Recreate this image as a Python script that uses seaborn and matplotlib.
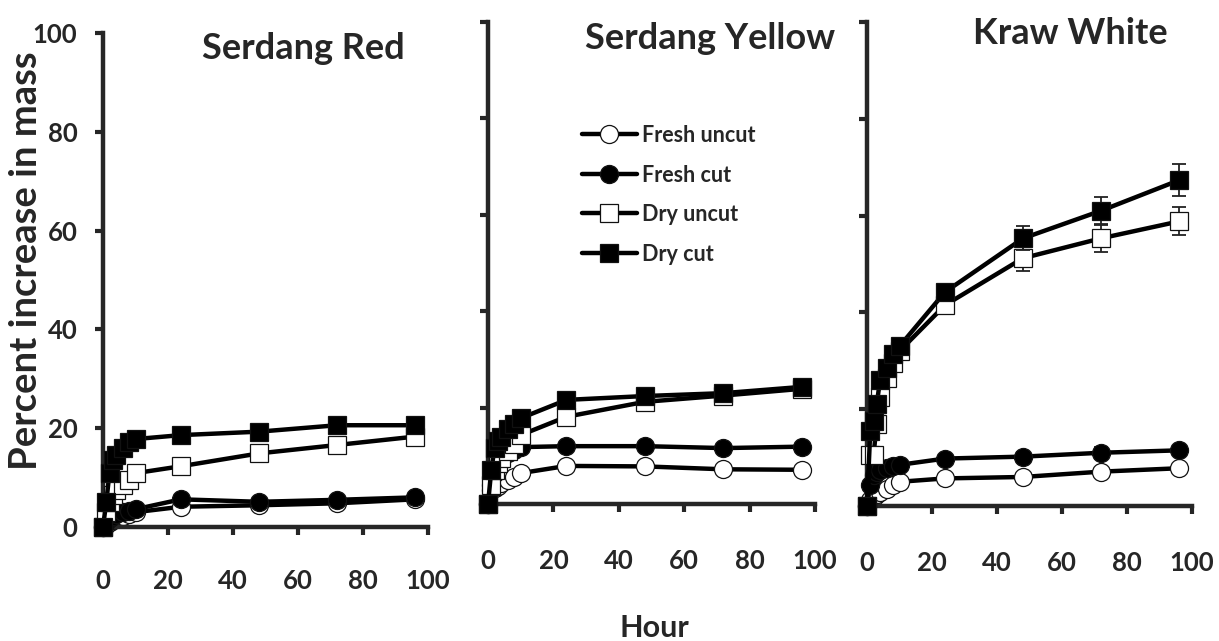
import numpy as np
import pandas as pd
import matplotlib
matplotlib.use('Agg')
import matplotlib.pyplot as plt
import seaborn as sns

# sampling times (hours)
hours = [0, 1, 2, 3, 4, 6, 8, 10, 24, 48, 72, 96]
series_names = ['Fresh uncut', 'Fresh cut', 'Dry uncut', 'Dry cut']
panel_titles = ['Serdang Red', 'Serdang Yellow', 'Kraw White']

# percent increase in mass
red_fresh_uncut = [0, 0.5, 1.0, 1.4, 1.8, 2.2, 2.6, 3.0, 4.1, 4.4, 4.8, 5.6]
red_fresh_cut = [0, 1.0, 1.8, 2.2, 2.6, 3.0, 3.3, 3.6, 5.6, 5.1, 5.5, 6.0]
red_dry_uncut = [0, 3.0, 5.0, 6.5, 7.5, 8.5, 9.5, 10.9, 12.3, 14.9, 16.6, 18.3]
red_dry_cut = [0, 5.0, 11.0, 13.5, 14.5, 16.0, 17.2, 17.8, 18.6, 19.3, 20.6, 20.6]

yellow_fresh_uncut = [0, 3.0, 3.4, 3.8, 4.3, 5.0, 5.7, 6.4, 7.9, 7.8, 7.2, 7.1]
yellow_fresh_cut = [0, 4.0, 6.5, 8.0, 9.5, 10.5, 11.3, 11.8, 12.0, 12.0, 11.6, 11.9]
yellow_dry_uncut = [0, 4.0, 7.0, 8.5, 9.5, 11.0, 12.5, 14.3, 18.1, 21.2, 22.5, 23.9]
yellow_dry_cut = [0, 7.0, 11.6, 13.0, 14.0, 15.5, 16.5, 17.8, 21.6, 22.4, 23.0, 24.3]

kraw_fresh_uncut = [0, 1.2, 1.9, 2.4, 2.9, 3.6, 4.3, 5.0, 5.7, 6.0, 7.1, 7.8]
kraw_fresh_cut = [0, 4.3, 6.5, 7.0, 7.5, 7.9, 8.2, 8.5, 9.8, 10.2, 11.0, 11.5]
kraw_dry_uncut = [0, 10.5, 10.5, 17.0, 22.5, 26.5, 29.5, 32.0, 41.5, 51.2, 55.3, 58.8]
kraw_dry_cut = [0, 15.5, 17.5, 21.0, 26.0, 28.5, 31.5, 33.0, 44.2, 55.3, 61.0, 67.3]

# standard errors (only visible ones in Kraw White)
kraw_err_fresh_cut = [0, 0, 0, 0, 0, 0, 0, 0, 0.8, 1.0, 1.2, 1.0]
kraw_err_dry_uncut = [0, 0, 0, 0, 0, 0, 0, 0, 1.5, 2.7, 2.8, 2.9]
kraw_err_dry_cut = [0, 0, 0, 0, 0, 0, 0, 0, 1.5, 2.5, 2.8, 3.3]

panels = [
    [red_fresh_uncut, red_fresh_cut, red_dry_uncut, red_dry_cut],
    [yellow_fresh_uncut, yellow_fresh_cut, yellow_dry_uncut, yellow_dry_cut],
    [kraw_fresh_uncut, kraw_fresh_cut, kraw_dry_uncut, kraw_dry_cut],
]
panel_errs = [None, None, [None, kraw_err_fresh_cut, kraw_err_dry_uncut, kraw_err_dry_cut]]

sns.set_style('ticks')
plt.rcParams['font.family'] = ['Lato', 'DejaVu Sans']
plt.rcParams['font.weight'] = 'bold'

W, H = 1219, 641
fig = plt.figure(figsize=(W / 100, H / 100), dpi=100)

def px_box(l, r, b, t):
    return [l / W, 1 - b / H, (r - l) / W, (b - t) / H]

boxes = [px_box(103, 428, 527, 33), px_box(488, 815, 504, 22), px_box(867, 1192, 506, 22)]
label_pads = [25, 27, 27]
styles = {'Fresh uncut': ('o', 'white'), 'Fresh cut': ('o', 'black'),
          'Dry uncut': ('s', 'white'), 'Dry cut': ('s', 'black')}

axes = []
for i, box in enumerate(boxes):
    ax = fig.add_axes(box)
    axes.append(ax)
    for j, name in enumerate(series_names):
        vals = panels[i][j]
        if panel_errs[i] is not None and panel_errs[i][j] is not None:
            ax.errorbar(hours, vals, yerr=panel_errs[i][j], fmt='none', ecolor='#222222',
                        elinewidth=1.3, capsize=5, capthick=1.3, zorder=2 + j, clip_on=False)
        mk, fc = styles[name]
        sns.lineplot(x=hours, y=vals, ax=ax, color='black', lw=3.2, marker=mk, markersize=13,
                     markerfacecolor=fc, markeredgecolor='#111111', markeredgewidth=0.9,
                     label=name, zorder=2 + j, clip_on=False, legend=False)
    ax.set_xlim(0, 100)
    ax.set_ylim(0, 100)
    ax.set_xticks(range(0, 101, 20))
    ax.set_yticks(range(0, 101, 20))
    ax.set_xlabel('')
    ax.set_ylabel('')
    sns.despine(ax=ax)
    for sp in ['left', 'bottom']:
        ax.spines[sp].set_linewidth(3.2)
    ax.tick_params(axis='both', direction='out', length=5.5, width=3, labelsize=18.5)
    ax.tick_params(axis='x', pad=label_pads[i])
    ax.tick_params(axis='y', pad=13)
    if i > 0:
        ax.tick_params(axis='y', labelleft=False)
    for lab in ax.get_xticklabels() + ax.get_yticklabels():
        lab.set_fontweight('bold')

# panel titles
fig.text(303 / W, 1 - 59 / H, panel_titles[0], ha='center', va='baseline', fontsize=26, fontweight='bold')
fig.text(710 / W, 1 - 49 / H, panel_titles[1], ha='center', va='baseline', fontsize=26, fontweight='bold')
fig.text(1070 / W, 1 - 44 / H, panel_titles[2], ha='center', va='baseline', fontsize=26, fontweight='bold')

fig.text(26 / W, 1 - 261 / H, 'Percent increase in mass', rotation=90, ha='center', va='center',
         fontsize=27.5, fontweight='bold')
fig.text(654 / W, 1 - 628 / H, 'Hour', ha='center', va='center', fontsize=22, fontweight='bold')

handles, labels = axes[1].get_legend_handles_labels()
axes[1].legend(handles, labels, loc='upper left', bbox_to_anchor=(582 / W, 1 - 125 / H),
               bbox_transform=fig.transFigure, frameon=False, borderpad=0, borderaxespad=0,
               handlelength=2.55, handletextpad=0.25, labelspacing=0.86, numpoints=1,
               prop={'size': 15.5, 'weight': 'bold'})

fig.savefig('out.png', dpi=100)
